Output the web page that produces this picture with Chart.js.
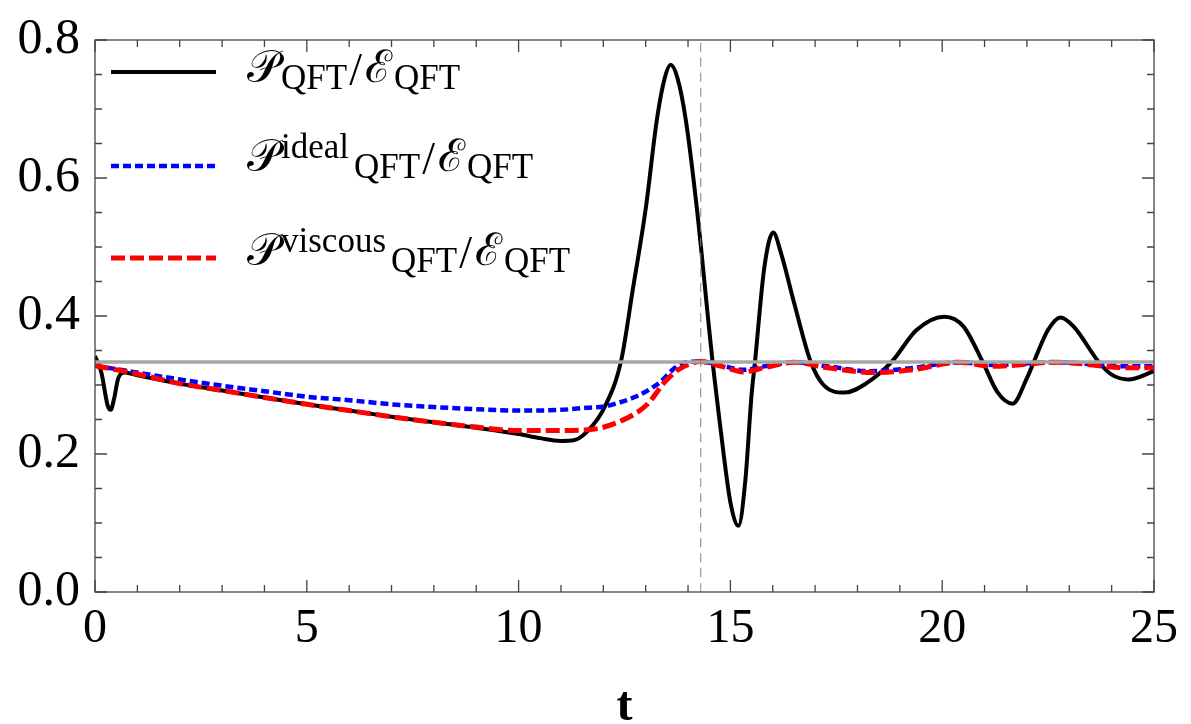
<!DOCTYPE html>
<html lang="en">
<head>
    <meta charset="UTF-8">
    <title>Pressure over energy density</title>
    <script src="https://cdn.jsdelivr.net/npm/chart.js"></script>
    <style>
        body { margin: 0; background: #fff; font-family: 'Liberation Serif'; }
        #wrap { position: relative; width: 1191px; height: 724px; }
        .leg { position: absolute; left: 247px; white-space: nowrap; line-height: 50px; color: #000; }
        .sc { font-family: 'DejaVu Serif'; font-size: 45px; margin-right: 2px; }
        .sl { font-size: 46px; position: relative; top: 3px; margin: 0 3px 0 2px; }
        .lo { font-size: 35px; position: relative; top: 7px; }
        .hi { font-size: 35px; position: relative; top: -13px; margin-right: 5px; }
    </style>
</head>
<body>
    <div id="wrap">
        <canvas id="pChart"></canvas>
        <div class="leg" style="top:42px"><span class="sc">𝒫</span><span class="lo">QFT</span><span class="sl">/</span><span class="sc">ℰ</span><span class="lo">QFT</span></div>
        <div class="leg" style="top:131px"><span class="sc">𝒫</span><span class="hi">ideal</span><span class="lo">QFT</span><span class="sl">/</span><span class="sc">ℰ</span><span class="lo">QFT</span></div>
        <div class="leg" style="top:225px"><span class="sc">𝒫</span><span class="hi">viscous</span><span class="lo">QFT</span><span class="sl">/</span><span class="sc">ℰ</span><span class="lo">QFT</span></div>
    </div>
    <script>
        // values
        const tFull = [0, 0.15, 0.3, 0.37, 0.45, 0.55, 0.7, 1, 2, 3, 4, 5, 6, 7, 8, 9, 10, 10.5, 11, 11.3,
            11.64, 12.03, 12.42, 12.7, 13.0, 13.27, 13.45, 13.59, 13.75, 13.94, 14.21, 14.5, 14.58, 14.67,
            14.84, 15.0, 15.19, 15.35, 15.5, 15.58, 15.8, 16.01, 16.2, 16.5, 16.9, 17.2, 17.7, 18.2, 18.8,
            19.4, 20.05, 20.5, 20.96, 21.3, 21.66, 22.0, 22.16, 22.5, 22.79, 23.1, 23.7, 24.0, 24.4, 25];
        const pFull = [0.342, 0.318, 0.27, 0.264, 0.28, 0.31, 0.318, 0.314, 0.302, 0.292, 0.282, 0.272, 0.263,
            0.254, 0.246, 0.238, 0.229, 0.223, 0.219, 0.220, 0.234, 0.268, 0.335, 0.44, 0.555, 0.687, 0.745,
            0.764, 0.745, 0.687, 0.555, 0.38, 0.333, 0.286, 0.2, 0.13, 0.096, 0.16, 0.286, 0.333, 0.47, 0.521,
            0.49, 0.42, 0.333, 0.3, 0.289, 0.302, 0.333, 0.38, 0.399, 0.385, 0.333, 0.29, 0.273, 0.31, 0.333,
            0.38, 0.398, 0.385, 0.333, 0.315, 0.308, 0.32];

        const tIdeal = [0, 1, 2, 3, 4, 5, 6, 7, 8, 9, 10, 11, 11.6, 12.03, 12.4, 12.8, 13.1, 13.36, 13.67, 13.9,
            14.3, 14.8, 15.3, 15.8, 16.5, 17.3, 18.3, 19.2, 20.4, 21.2, 22.7, 24.4, 25];
        const pIdeal = [0.328, 0.318, 0.308, 0.299, 0.291, 0.283, 0.278, 0.272, 0.268, 0.265, 0.263, 0.264,
            0.267, 0.269, 0.275, 0.284, 0.294, 0.305, 0.324, 0.332, 0.334, 0.328, 0.322, 0.327, 0.333, 0.327,
            0.32, 0.324, 0.333, 0.329, 0.333, 0.327, 0.327];

        const tVisc = [0, 1, 2, 3, 4, 5, 6, 7, 8, 9, 10, 10.86, 11.64, 12.42, 13.04, 13.43, 13.74, 14.07, 14.3,
            14.8, 15.3, 15.8, 16.5, 17.3, 18.4, 19.3, 20.4, 21.2, 22.7, 24.4, 25];
        const pVisc = [0.328, 0.316, 0.302, 0.292, 0.282, 0.272, 0.263, 0.254, 0.246, 0.239, 0.234, 0.234,
            0.235, 0.248, 0.272, 0.303, 0.321, 0.331, 0.334, 0.327, 0.319, 0.325, 0.333, 0.325, 0.318, 0.322,
            0.333, 0.327, 0.333, 0.325, 0.325];

        const conformal = 1 / 3;
        const tMark = 14.3;
        const xRange = [0, 25];
        const yRange = [0, 0.8];

        const pts = (ts, ps) => ts.map((t, i) => ({ x: t, y: ps[i] }));

        const serif = "'Liberation Serif'";

        // inward Mathematica-style ticks + frame
        const frameTicks = {
            id: 'frameTicks',
            afterDatasetsDraw(chart) {
                const { ctx, chartArea: a, scales: { x, y } } = chart;
                ctx.save();
                ctx.strokeStyle = '#444';
                ctx.lineWidth = 1.3;
                ctx.strokeRect(a.left, a.top, a.right - a.left, a.bottom - a.top);
                ctx.beginPath();
                for (let t = xRange[0]; t <= xRange[1]; t++) {
                    const px = x.getPixelForValue(t);
                    const len = t % 5 === 0 ? 12 : 7;
                    ctx.moveTo(px, a.bottom); ctx.lineTo(px, a.bottom - len);
                    ctx.moveTo(px, a.top); ctx.lineTo(px, a.top + len);
                }
                for (let i = 0; i <= 16; i++) {
                    const py = y.getPixelForValue(i * 0.05);
                    const len = i % 4 === 0 ? 12 : 7;
                    ctx.moveTo(a.left, py); ctx.lineTo(a.left + len, py);
                    ctx.moveTo(a.right, py); ctx.lineTo(a.right - len, py);
                }
                ctx.stroke();
                ctx.restore();
            }
        };

        // legend line samples (text is in the html overlay)
        const legendLines = {
            id: 'legendLines',
            afterDraw(chart) {
                const { ctx, chartArea: a } = chart;
                const rows = [
                    { y: 72, color: '#000', width: 4, dash: [] },
                    { y: 166, color: '#0000ff', width: 4.5, dash: [8, 4] },
                    { y: 258, color: '#ff0000', width: 5, dash: [14, 5] }
                ];
                ctx.save();
                rows.forEach(r => {
                    ctx.beginPath();
                    ctx.setLineDash(r.dash);
                    ctx.strokeStyle = r.color;
                    ctx.lineWidth = r.width;
                    ctx.moveTo(a.left + 16, r.y);
                    ctx.lineTo(a.left + 121, r.y);
                    ctx.stroke();
                });
                ctx.restore();
            }
        };

        function build() {
            new Chart(document.getElementById('pChart'), {
                type: 'line',
                data: {
                    datasets: [
                        {
                            label: 'P_QFT/E_QFT',
                            data: pts(tFull, pFull),
                            borderColor: '#000',
                            borderWidth: 4,
                            order: 4
                        },
                        {
                            label: 'P^ideal_QFT/E_QFT',
                            data: pts(tIdeal, pIdeal),
                            borderColor: '#0000ff',
                            borderWidth: 4.5,
                            borderDash: [8, 4],
                            order: 3
                        },
                        {
                            label: 'P^viscous_QFT/E_QFT',
                            data: pts(tVisc, pVisc),
                            borderColor: '#ff0000',
                            borderWidth: 5,
                            borderDash: [14, 5],
                            order: 2
                        },
                        {
                            label: '1/3',
                            data: pts(xRange, [conformal, conformal]),
                            borderColor: '#a6a6a6',
                            borderWidth: 3.5,
                            order: 1
                        },
                        {
                            label: 'marker',
                            data: pts([tMark, tMark], yRange),
                            borderColor: '#808080',
                            borderWidth: 1,
                            borderDash: [9, 6],
                            order: 0
                        }
                    ]
                },
                options: {
                    responsive: true,
                    maintainAspectRatio: false,
                    animation: false,
                    layout: { padding: { top: 27, right: 29, left: 0, bottom: 0 } },
                    elements: {
                        point: { radius: 0 },
                        line: { cubicInterpolationMode: 'monotone', fill: false }
                    },
                    plugins: {
                        legend: { display: false },
                        tooltip: { enabled: false }
                    },
                    scales: {
                        x: {
                            type: 'linear',
                            min: xRange[0],
                            max: xRange[1],
                            grid: { display: false, drawTicks: false },
                            border: { display: false },
                            ticks: {
                                stepSize: 5,
                                padding: 13,
                                color: '#000',
                                font: { family: serif, size: 48, lineHeight: 1 }
                            },
                            title: {
                                display: true,
                                text: 't',
                                color: '#000',
                                padding: { top: 0, bottom: 0 },
                                font: { family: serif, size: 48, weight: 'bold', lineHeight: 0.7 }
                            },
                            afterFit(s) { s.height = 132; }
                        },
                        y: {
                            min: yRange[0],
                            max: yRange[1],
                            grid: { display: false, drawTicks: false },
                            border: { display: false },
                            ticks: {
                                stepSize: 0.2,
                                padding: 15,
                                color: '#000',
                                font: { family: serif, size: 50, lineHeight: 1 },
                                callback: v => v.toFixed(1)
                            },
                            afterFit(s) { s.width = 95; }
                        }
                    }
                },
                plugins: [frameTicks, legendLines]
            });
        }

        window.addEventListener('load', () => {
            Promise.all([
                document.fonts.load("48px 'Liberation Serif'"),
                document.fonts.load("bold 48px 'Liberation Serif'")
            ]).catch(() => null).then(() => document.fonts.ready).then(build);
        });
    </script>
</body>
</html>
